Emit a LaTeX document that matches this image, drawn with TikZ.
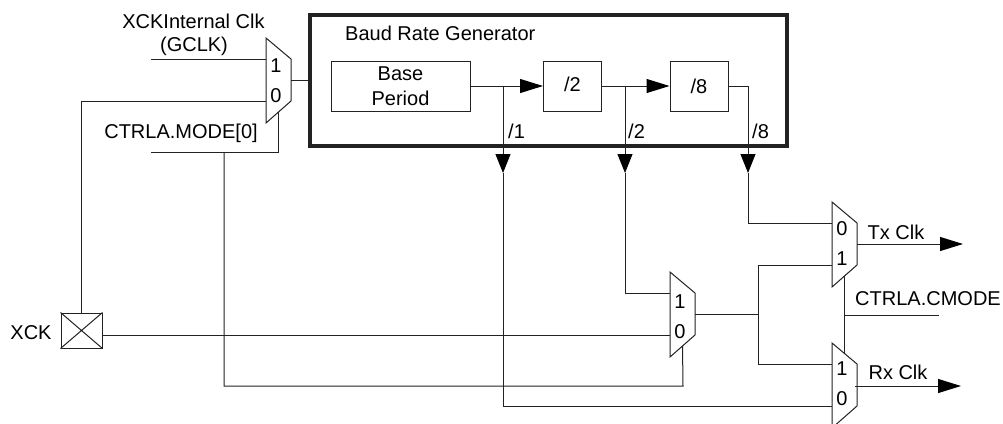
\documentclass[tikz,border=0pt]{standalone}
\usepackage{fontspec}
\setmainfont{Liberation Sans}
\usetikzlibrary{arrows.meta}
\definecolor{ink}{HTML}{222222}
\tikzset{
  x=1pt,y=-1pt,
  wire/.style={draw=ink,line width=1pt},
  tip/.style={wire,-{Triangle[length=23pt,width=14pt,color=black]}},
  tipd/.style={wire,-{Triangle[length=19pt,width=15pt,color=black]}},
  lbl/.style={inner sep=0pt,font=\fontsize{20}{22}\selectfont,text=black},
  blk/.style={draw=ink,line width=1pt,inner sep=0pt,align=center,font=\fontsize{20}{25}\selectfont},
  pics/mux/.style n args={3}{code={
    \draw[wire,fill=white,line join=miter] (0,0) -- (25,21) -- (25,63) -- (0,85) -- cycle;
    \coordinate (-ia) at (0,21);
    \coordinate (-ib) at (0,63);
    \coordinate (-out) at (25,42);
    \coordinate (-bot) at (12.5,74);
    \coordinate (-top) at (12.5,11);
    \node[lbl] (-la) at (10,#3) {#1};
    \node[lbl] (-lb) at (10,#3+30) {#2};
  }}
}
\begin{document}
\begin{tikzpicture}
\clip (0,0) rectangle (1003,423);
% Baud rate generator
\node[draw=ink,line width=3.5pt,minimum width=477pt,minimum height=131pt,inner sep=0pt] (brg) at (548.5,80.5) {};
\node[lbl,anchor=west] (brgt) at (345,33) {Baud Rate Generator};
\node[blk,minimum width=139pt,minimum height=50pt] (base) at (400.5,86) {Base\\Period};
\node[blk,minimum width=58pt,minimum height=50pt] (d2) at (572.5,86) {\raisebox{3pt}{/2}};
\node[blk,minimum width=58pt,minimum height=50pt] (d8) at (699,86) {/8};
\coordinate (b1) at (503,86);
\coordinate (b2) at (625,86);
\coordinate (b8) at (748,86);
\coordinate (t1) at (503,173);
\coordinate (t2) at (625,173);
\coordinate (t8) at (748,173);
% Muxes
\pic (mi) at (266,38) {mux={1}{0}{28}};
\pic (mm) at (670,272) {mux={1}{0}{30}};
\pic (mt) at (832,202) {mux={0}{1}{27}};
\pic (mr) at (832,343) {mux={1}{0}{26}};
% XCK pad
\node[draw=ink,line width=1pt,minimum width=41pt,minimum height=35pt,inner sep=0pt] (pad) at (81.5,330.5) {};
\draw[wire] (pad.north west) -- (pad.south east) (pad.north east) -- (pad.south west);
\node[lbl] (xck) at (31,333) {XCK};
% Free ends
\coordinate (gclk) at (151,59);
\coordinate (mode) at (151,152);
\coordinate (modej) at (224,152);
\coordinate (modec) at (683,386);
\coordinate (cm) at (939,315);
\coordinate (cmj) at (845,315);
\coordinate (txe) at (963,244);
\coordinate (rxe) at (961,386);
\coordinate (rxs) at (855,386);
\coordinate (mj) at (758,314);
% Connectors
\draw[tip] (base.east) -- (d2.west);
\draw[tip] (d2.east) -- (d8.west);
\draw[tipd] (b1) -- (t1);
\draw[tipd] (b2) -- (t2);
\draw[tipd] (d8.east) -| (t8);
\draw[wire] (t1) |- (mr-ib);
\draw[wire] (t2) |- (mm-ia);
\draw[wire] (t8) |- (mt-ia);
\draw[wire] (gclk) -- (mi-ia);
\draw[wire] (pad.north) |- (mi-ib);
\draw[wire] (mi-out) -- (brg.west |- mi-out);
\draw[wire] (mode) -| (mi-bot);
\draw[wire] (modej) |- (modec) -- (mm-bot);
\draw[wire] (pad.east |- mm-ib) -- (mm-ib);
\draw[wire] (mm-out) -- (mj);
\draw[wire] (mt-ib) -| (mj) |- (mr-ia);
\draw[wire] (mt-bot) -- (mr-top);
\draw[wire] (cmj) -- (cm);
\draw[tip] (mt-out) -- (txe);
\draw[tip] (rxs) -- (rxe);
% Labels
\node[lbl] (l1) at (193.5,21) {XCKInternal Clk};
\node[lbl] (l2) at (194,46) {(GCLK)};
\node[lbl] (l3) at (181,133) {CTRLA.MODE[0]};
\node[lbl,anchor=west] (s1) at (508,131) {/1};
\node[lbl,anchor=west] (s2) at (628,131) {/2};
\node[lbl,anchor=west] (s8) at (752,131) {/8};
\node[lbl] (tx) at (896,232) {Tx Clk};
\node[lbl] (rx) at (898,372) {Rx Clk};
\node[lbl] (cmt) at (928,299) {CTRLA.CMODE};
\end{tikzpicture}
\end{document}
